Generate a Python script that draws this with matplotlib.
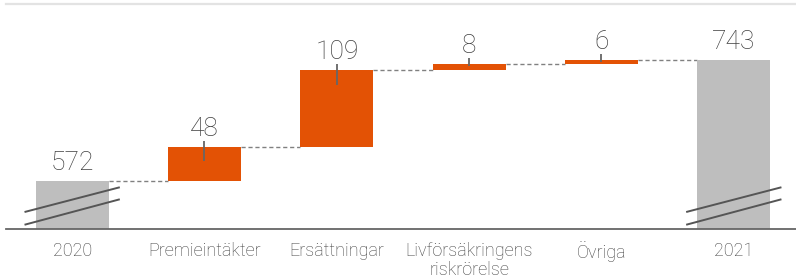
import matplotlib.pyplot as plt
import numpy as np

categories = ["2020", "Premieintäkter", "Ersättningar", "Livförsäkringens\nriskrörelse", "Övriga", "2021"]
values = [572, 48, 109, 8, 6, 743]
is_total = [True, False, False, False, False, True]

plt.rcParams['font.family'] = ['Roboto', 'DejaVu Sans']

orange = "#E35205"
grey_bar = "#BEBEBE"
text_col = "#404040"

fig = plt.figure(figsize=(7.96, 2.80), dpi=100)
ax = fig.add_axes([6 / 796, 51 / 280, 790 / 796, 225 / 280])

x = np.arange(len(categories))
width = 0.55
ymin, ymax = 504, 822

# running totals
bottoms = []
tops = []
running = 0
for v, tot in zip(values, is_total):
    if tot:
        bottoms.append(ymin)
        tops.append(v)
        running = v
    else:
        bottoms.append(running)
        running += v
        tops.append(running)

for i, (b, t, tot) in enumerate(zip(bottoms, tops, is_total)):
    ax.bar(x[i], t - b, bottom=b, width=width, color=grey_bar if tot else orange, zorder=2)
    ax.annotate(str(values[i]), (x[i], t), xytext=(0, 8), textcoords="offset points",
                ha="center", va="baseline", fontsize=19, color=text_col, fontweight="light")
    if not tot:
        ax.vlines(x[i], t - min(21, values[i] * 0.4), t + 8, color="#666666", lw=1.3, zorder=3)

# dashed connectors
for i in range(len(values) - 1):
    ax.hlines(tops[i], x[i] + width / 2, x[i + 1] - width / 2, colors="#808080",
              linestyles=(0, (3, 2)), lw=1.0, zorder=1)

# axis break marks on total bars
for i, tot in enumerate(is_total):
    if tot:
        for y0, y1 in [(ymin + 6, ymin + 42), (ymin + 24, ymin + 59)]:
            ax.plot([x[i] - 0.36, x[i] + 0.36], [y0, y1], color="#555555", lw=1.4,
                    solid_capstyle="butt", zorder=4, clip_on=False)

ax.set_xlim(-0.5, 5.47)
ax.set_ylim(ymin, ymax)
ax.set_xticks(x)
ax.set_xticklabels(categories, fontsize=13, color=text_col, fontweight="light", linespacing=1.1)
ax.tick_params(axis="x", length=0, pad=9)
ax.set_yticks([])
for s in ["left", "right"]:
    ax.spines[s].set_visible(False)
ax.spines["bottom"].set_color("#666666")
ax.spines["bottom"].set_linewidth(1.3)
ax.spines["top"].set_color("#E3E3E3")
ax.spines["top"].set_linewidth(1.6)

fig.savefig("out.png", dpi=100)
